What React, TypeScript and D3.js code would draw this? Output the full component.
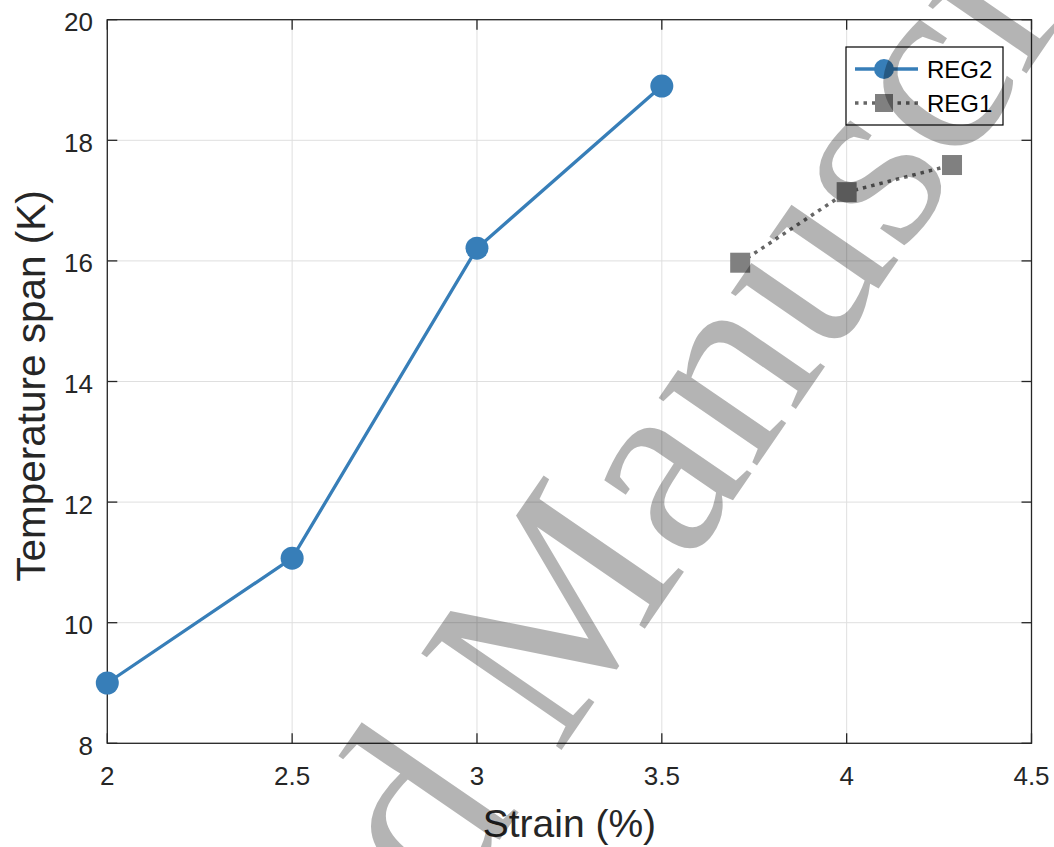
import React from "react";
import * as d3 from "d3";

const reg2Strain = [2, 2.5, 3, 3.5];
const reg2Span = [9.0, 11.07, 16.21, 18.9];
const reg1Strain = [3.712, 4.0, 4.285];
const reg1Span = [15.97, 17.14, 17.59];
const xTicks = [2, 2.5, 3, 3.5, 4, 4.5];
const yTicks = [8, 10, 12, 14, 16, 18, 20];
const seriesNames = ["REG2", "REG1"];

const W = 1054;
const H = 847;
const L = 107.3, R = 1031.5, T = 19.7, B = 743.3;
const AX = "#262626";
const FONT = "'Liberation Sans', Arial, Helvetica, sans-serif";

export default function App() {
  const x = d3.scaleLinear().domain([2, 4.5]).range([L, R]);
  const y = d3.scaleLinear().domain([8, 20]).range([B, T]);
  const line = d3.line<[number, number]>().x((d) => x(d[0])).y((d) => y(d[1]));
  const reg2 = reg2Strain.map((v, i) => [v, reg2Span[i]] as [number, number]);
  const reg1 = reg1Strain.map((v, i) => [v, reg1Span[i]] as [number, number]);
  const tickLen = 10;

  // watermark placement
  const wmSize = 260;
  const wmAngle = -55.5;

  return (
    <svg
      width={W}
      height={H}
      style={{ position: "absolute", left: 0, top: 0, display: "block", background: "#fff" }}
      fontFamily={FONT}
    >
      <rect x={0} y={0} width={W} height={H} fill="#fff" />
      {/* grid */}
      {xTicks.map((t) => (
        <line key={"gx" + t} x1={x(t)} x2={x(t)} y1={T} y2={B} stroke="#dfdfdf" strokeWidth={1} />
      ))}
      {yTicks.map((t) => (
        <line key={"gy" + t} x1={L} x2={R} y1={y(t)} y2={y(t)} stroke="#dfdfdf" strokeWidth={1} />
      ))}
      {/* box */}
      <rect x={L} y={T} width={R - L} height={B - T} fill="none" stroke={AX} strokeWidth={1.3} />
      {/* ticks */}
      {xTicks.map((t) => (
        <g key={"tx" + t}>
          <line x1={x(t)} x2={x(t)} y1={B} y2={B - tickLen} stroke={AX} strokeWidth={1.3} />
          <line x1={x(t)} x2={x(t)} y1={T} y2={T + tickLen} stroke={AX} strokeWidth={1.3} />
          <text x={x(t)} y={785} textAnchor="middle" fontSize={26} fill={AX}>
            {String(t)}
          </text>
        </g>
      ))}
      {yTicks.map((t) => (
        <g key={"ty" + t}>
          <line x1={L} x2={L + tickLen} y1={y(t)} y2={y(t)} stroke={AX} strokeWidth={1.3} />
          <line x1={R} x2={R - tickLen} y1={y(t)} y2={y(t)} stroke={AX} strokeWidth={1.3} />
          <text x={93} y={y(t) + 11.5} textAnchor="end" fontSize={26} fill={AX}>
            {String(t)}
          </text>
        </g>
      ))}
      {/* axis labels */}
      <text x={(L + R) / 2} y={837} textAnchor="middle" fontSize={39} fill={AX}>
        Strain (%)
      </text>
      <text
        transform={`translate(45, 386) rotate(-90)`}
        textAnchor="middle"
        fontSize={40.5}
        fill={AX}
      >
        Temperature span (K)
      </text>
      {/* REG2 */}
      <path d={line(reg2) || ""} fill="none" stroke="#377eb8" strokeWidth={3.3} />
      {reg2.map((d, i) => (
        <circle key={"c" + i} cx={x(d[0])} cy={y(d[1])} r={11.5} fill="#377eb8" />
      ))}
      {/* REG1 */}
      <path d={line(reg1) || ""} fill="none" stroke="#666" strokeWidth={3.5} strokeDasharray="3.5 5" />
      {reg1.map((d, i) => (
        <rect key={"s" + i} x={x(d[0]) - 10} y={y(d[1]) - 10} width={20} height={20} fill="#808080" />
      ))}
      {/* legend */}
      <rect x={846} y={47} width={157} height={78} fill="#fff" stroke="#000" strokeWidth={1.2} />
      <line x1={855} x2={918} y1={69} y2={69} stroke="#377eb8" strokeWidth={3.3} />
      <circle cx={884} cy={69} r={10} fill="#377eb8" />
      <text x={927} y={78} fontSize={24} fill="#000">{seriesNames[0]}</text>
      <line x1={855} x2={918} y1={103} y2={103} stroke="#666" strokeWidth={3.5} strokeDasharray="3.5 5" />
      <rect x={875} y={94} width={18} height={18} fill="#808080" />
      <text x={927} y={112} fontSize={24} fill="#000">{seriesNames[1]}</text>
      {/* watermark */}
      <text
        transform={`translate(-35.5, 1618.6) rotate(${wmAngle})`}
        fontFamily="'Liberation Serif', 'Times New Roman', serif"
        fontSize={wmSize}
        fill="#000"
        fillOpacity={0.295}
      >
        Accepted Manuscript
      </text>
    </svg>
  );
}
